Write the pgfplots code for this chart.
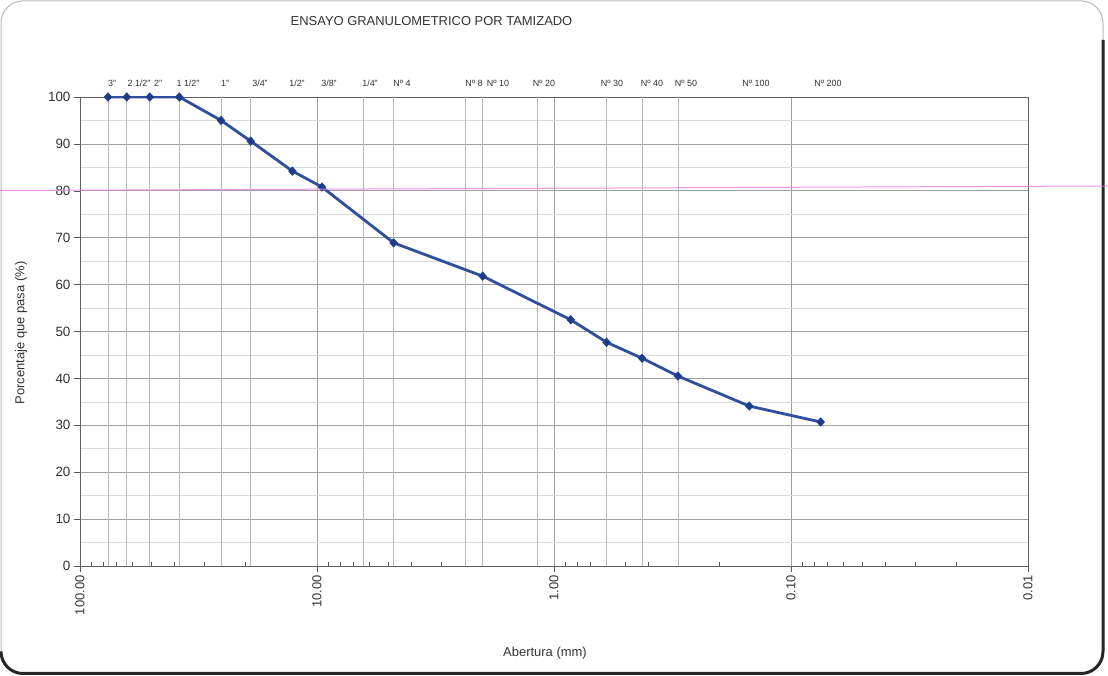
\documentclass[border=0pt]{standalone}
\usepackage{fontspec}
\setmainfont{Liberation Sans}
\usepackage{pgfplots}
\pgfplotsset{compat=1.18}
\definecolor{serie}{RGB}{46,78,158}
\definecolor{marca}{RGB}{30,60,140}
\definecolor{rosa}{RGB}{232,130,232}
\begin{document}
\begin{tikzpicture}
\useasboundingbox (0bp,0bp) rectangle (1108bp,676bp);
\fill[white] (0bp,0bp) rectangle (1108bp,676bp);
\draw[gray!55, line width=1bp, rounded corners=22bp] (1bp,2.5bp) rectangle (1103bp,675bp);
\draw[black!85, line width=3bp, rounded corners=22bp] (1103bp,636bp) -- (1103bp,2.5bp) -- (1bp,2.5bp) -- (1bp,20bp);
\begin{axis}[
  at={(80bp,110bp)}, anchor=south west,
  scale only axis, width=948bp, height=469bp,
  xmode=log, x dir=reverse, xmin=0.01, xmax=100,
  ymin=0, ymax=100, ytick={0,10,...,100}, minor y tick num=1,
  xtick={100,10,1,0.1,0.01}, xticklabels={100.00,10.00,1.00,0.10,0.01},
  minor xtick={20,30,40,50,60,70,80,90,2,3,4,5,6,7,8,9,0.2,0.3,0.4,0.5,0.6,0.7,0.8,0.9,0.02,0.03,0.04,0.05,0.06,0.07,0.08,0.09},
  extra x ticks={76.2,63.5,50.8,38.1,25.4,19.05,6.35,4.75,2.36,2.0,1.18,0.6,0.425,0.3},
  extra x tick labels={},
  extra x tick style={major tick length=0pt, grid=major, major grid style={gray!55, line width=0.5bp}},
  xticklabel style={rotate=90, anchor=east, font=\fontsize{13}{15}\selectfont, text=black!80},
  yticklabel style={font=\fontsize{13.5}{15}\selectfont, text=black!80},
  /pgf/number format/assume math mode=true,
  tick pos=left, tick align=outside,
  major tick length=6bp, minor tick length=4bp,
  tick style={gray!70!black, line width=0.5bp},
  minor x tick style={yshift=4bp},
  minor y tick style={draw=none},
  xmajorgrids, ymajorgrids, yminorgrids,
  major grid style={gray!75, line width=0.6bp},
  minor grid style={gray!30, line width=0.5bp},
  axis line style={gray!75!black, line width=0.6bp},
  xlabel={Abertura (mm)},
  xlabel style={at={([yshift=-87bp]axis description cs:0.4905,0)}, anchor=center, font=\fontsize{13}{15}\selectfont, text=black!80},
  ylabel={Porcentaje que pasa (\%)},
  ylabel style={at={([xshift=-59bp]axis description cs:0,0.497)}, anchor=center, font=\fontsize{13}{15}\selectfont, text=black!80},
]
\addplot[serie, line width=2.8bp, mark=diamond*, mark size=4.3bp,
  mark options={fill=marca, draw=marca, line width=0.5bp, xscale=1.2}] coordinates {
  (76.2,100) (63.5,100) (50.8,100) (38.1,100) (25.4,95.0) (19.05,90.6)
  (12.7,84.2) (9.525,80.8) (4.75,68.9) (2.0,61.8) (0.85,52.5) (0.6,47.7)
  (0.425,44.3) (0.3,40.5) (0.15,34.1) (0.075,30.7)
};
\end{axis}
\draw[rosa, line width=1bp, opacity=0.85] (0bp,485.5bp) -- (1108bp,490bp);
\node[font=\fontsize{13}{15}\selectfont, text=black!80] at (431.5bp,655bp) {ENSAYO GRANULOMETRICO POR TAMIZADO};
\begin{scope}[every node/.style={font=\fontsize{9}{10}\selectfont, text=black!80, inner sep=0pt}]
\node at (112bp,593bp) {3"};
\node at (139bp,593bp) {2 1/2"};
\node at (158bp,593bp) {2"};
\node at (188bp,593bp) {1 1/2"};
\node at (225bp,593bp) {1"};
\node at (260bp,593bp) {3/4"};
\node at (297bp,593bp) {1/2"};
\node at (329bp,593bp) {3/8"};
\node at (370bp,593bp) {1/4"};
\node at (402bp,593bp) {Nº 4};
\node at (474bp,593bp) {Nº 8};
\node at (498bp,593bp) {Nº 10};
\node at (544bp,593bp) {Nº 20};
\node at (612bp,593bp) {Nº 30};
\node at (652bp,593bp) {Nº 40};
\node at (686bp,593bp) {Nº 50};
\node at (756bp,593bp) {Nº 100};
\node at (828bp,593bp) {Nº 200};
\end{scope}
\end{tikzpicture}
\end{document}
